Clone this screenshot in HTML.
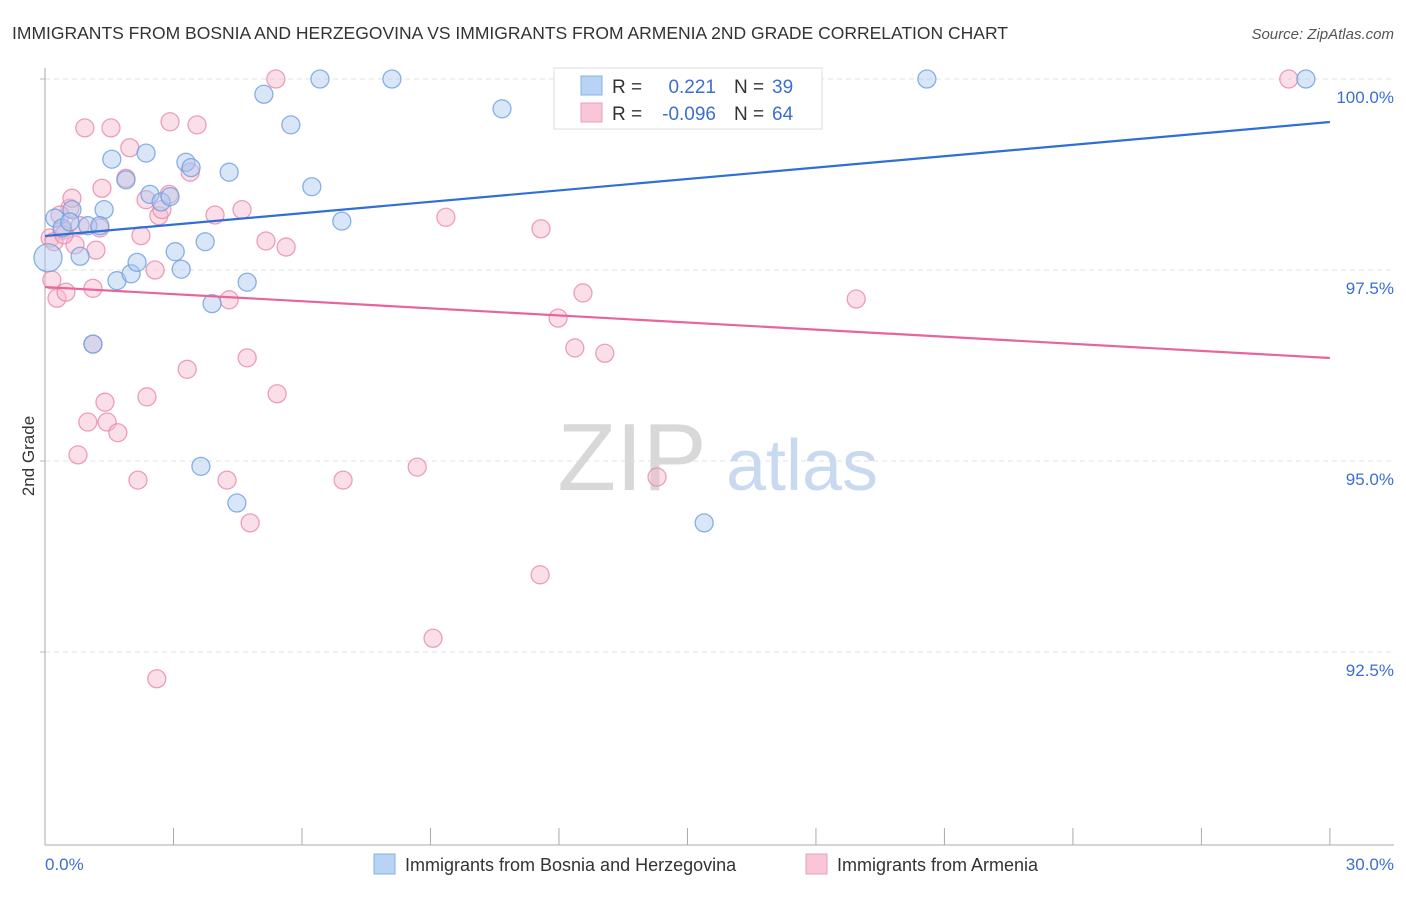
<!DOCTYPE html>
<html><head><meta charset="utf-8"><style>
body{margin:0;background:#fff;font-family:"Liberation Sans",sans-serif}
svg text{font-family:"Liberation Sans",sans-serif}
</style></head><body>
<svg id="chart" width="1406" height="892" xmlns="http://www.w3.org/2000/svg">
<text x="12" y="39" font-size="17.5" fill="#333">IMMIGRANTS FROM BOSNIA AND HERZEGOVINA VS IMMIGRANTS FROM ARMENIA 2ND GRADE CORRELATION CHART</text>
<text x="1394" y="39" font-size="15" fill="#555" font-style="italic" text-anchor="end">Source: ZipAtlas.com</text>
<g id="grid"></g>
<g>
<text x="632" y="490" font-size="96" fill="#d8d8d8" font-family="Liberation Serif" text-anchor="middle">ZIP</text>
<text x="802" y="490" font-size="72" fill="#c9daf0" text-anchor="middle">atlas</text>
</g>
<g id="pts"></g>
<g id="lines"></g>
<text transform="translate(34,456) rotate(-90)" font-size="17" fill="#333" text-anchor="middle">2nd Grade</text>
<text x="45" y="870" font-size="17" fill="#3b6fd1">0.0%</text>
<text x="1394" y="870" font-size="17" fill="#3b6fd1" text-anchor="end">30.0%</text>
<g>
<rect x="554" y="68" width="268" height="61" fill="#fff" stroke="#ddd"/>
<rect x="581" y="76" width="21" height="19" fill="#b9d3f5" stroke="#86b0e6"/>
<rect x="581" y="103" width="21" height="19" fill="#f9c6d5" stroke="#ec9fb8"/>
<text x="612" y="93" font-size="19" fill="#333">R =</text>
<text x="716" y="93" font-size="19" fill="#3b6fd1" text-anchor="end">0.221</text>
<text x="734" y="93" font-size="19" fill="#333">N =</text>
<text x="772" y="93" font-size="19" fill="#3b6fd1">39</text>
<text x="612" y="120" font-size="19" fill="#333">R =</text>
<text x="716" y="120" font-size="19" fill="#3b6fd1" text-anchor="end">-0.096</text>
<text x="734" y="120" font-size="19" fill="#333">N =</text>
<text x="772" y="120" font-size="19" fill="#3b6fd1">64</text>
</g>
<g>
<rect x="374" y="854" width="21" height="20" fill="#b9d3f5" stroke="#86b0e6"/>
<text x="405" y="871" font-size="18" fill="#333">Immigrants from Bosnia and Herzegovina</text>
<rect x="806" y="854" width="21" height="20" fill="#f9c6d5" stroke="#ec9fb8"/>
<text x="837" y="871" font-size="18" fill="#333">Immigrants from Armenia</text>
</g>
</svg>
<script>
const blueX=[.23,.40,.63,.82,1.00,1.38,1.56,1.68,1.89,2.01,2.15,2.36,2.45,2.71,2.92,3.04,3.18,3.29,3.41,3.74,3.90,4.30,4.48,4.72,5.11,5.74,6.23,6.42,6.93,8.10,10.67,3.64,15.39,20.59,29.44,.07,1.28,1.12,.58];
const blueY=[98.18,98.05,98.29,97.68,98.08,98.29,98.95,97.36,98.68,97.45,97.60,99.03,98.49,98.39,98.46,97.74,97.51,98.91,98.84,97.87,97.06,98.78,94.45,97.34,99.80,99.40,98.59,100,98.14,100,99.61,94.93,94.19,100,100,97.66,98.08,96.53,98.13];
const pinkX=[.12,.16,.28,.40,.49,.58,.63,.70,.82,.93,1.00,1.12,1.12,1.19,1.33,1.40,1.45,1.54,1.70,1.89,1.98,2.17,2.24,2.38,2.57,2.61,2.66,2.73,2.90,2.92,3.32,3.39,3.55,3.97,4.25,4.30,4.60,4.72,4.79,5.16,5.39,5.42,5.63,6.96,8.69,9.06,9.36,11.56,11.58,11.98,12.37,12.56,13.07,14.29,18.94,29.04,.77,.35,.21,.44,1.28,2.36];
const pinkY=[97.92,97.37,97.13,98.02,97.21,98.31,98.44,97.83,98.08,99.36,95.51,96.53,97.26,97.76,98.57,95.77,95.51,99.36,95.37,98.70,99.10,94.75,97.95,95.84,97.50,92.15,98.21,98.29,98.49,99.44,96.20,98.78,99.40,98.22,94.75,97.11,98.29,96.35,94.19,97.88,100,95.88,97.80,94.75,94.92,92.68,98.19,93.51,98.04,96.87,96.48,97.20,96.41,94.79,97.12,100,95.08,98.22,97.87,97.96,98.05,98.42];
const blueTrend=[97.945,99.437];
const pinkTrend=[97.277,96.348];
const yTicks=[100,97.5,95,92.5];
const yTickLabels=["100.0%","97.5%","95.0%","92.5%"];
const xTicks=[0,3,6,9,12,15,18,21,24,27,30];
const NS="http://www.w3.org/2000/svg";
const sx=v=>45+v*42.83, sy=v=>79+(100-v)*76.4;
function mk(t,a,p){const e=document.createElementNS(NS,t);for(const k in a)e.setAttribute(k,a[k]);p.appendChild(e);return e;}
const grid=document.getElementById('grid');
yTicks.forEach((v,i)=>{
 const l=mk('line',{x1:45,x2:1394,y1:sy(v),y2:sy(v),stroke:'#e2e2e2','stroke-dasharray':'5,4'},grid);
 
 
 const tk=mk('line',{x1:40,x2:45,y1:sy(v),y2:sy(v),stroke:'#bbb'},grid);
 
 
 const t=mk('text',{x:1394,y:sy(v)+24,'font-size':17,fill:'#3b6fd1','text-anchor':'end'},grid);
 t.textContent=yTickLabels[i];
 
 
});
const ya=mk('line',{x1:45,x2:45,y1:68,y2:845,stroke:'#aaa'},grid);


const xa=mk('line',{x1:45,x2:1394,y1:845,y2:845,stroke:'#aaa'},grid);


xTicks.forEach(v=>{const t=mk('line',{x1:sx(v),x2:sx(v),y1:828,y2:845,stroke:'#aaa'},grid);
 
 });
const pts=document.getElementById('pts');
function dots(X,Y,fill,stroke,name){X.forEach((x,i)=>{const c=mk('circle',{cx:sx(x),cy:sy(Y[i]),r:i==35&&name=='blue-point'?14:9,fill:fill,'fill-opacity':.45,stroke:stroke,'stroke-width':1.3,'stroke-opacity':.8},pts);
 
 });}
dots(pinkX,pinkY,'#f7b9cc','#e889a8','pink-point');
dots(blueX,blueY,'#aac8f0','#6d9fe0','blue-point');
const lines=document.getElementById('lines');
const bl=mk('line',{x1:sx(0),y1:sy(blueTrend[0]),x2:sx(30),y2:sy(blueTrend[1]),stroke:'#2f6fd6','stroke-width':2.2},lines);


const pl=mk('line',{x1:sx(0),y1:sy(pinkTrend[0]),x2:sx(30),y2:sy(pinkTrend[1]),stroke:'#e8649a','stroke-width':2.2},lines);


</script>
</body></html>
